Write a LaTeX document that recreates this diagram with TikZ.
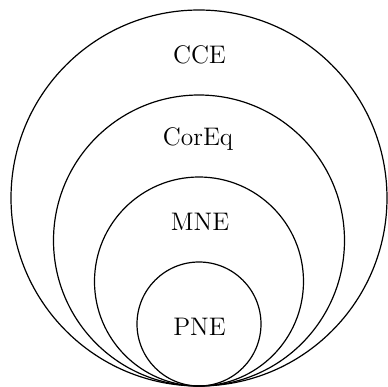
\documentclass[tikz,border=0pt]{standalone}
\begin{document}
\begin{tikzpicture}[x=0.5pt,y=-0.5pt,
  ring/.style={line width=0.6pt,draw=black},
  lbl/.style={font=\fontsize{12.7}{15}\selectfont,inner sep=0pt,anchor=base}]
\useasboundingbox (0,0) rectangle (388,387);
\coordinate (B) at (199,386);
\draw[ring] (199,198) circle[radius=94pt];
\draw[ring] (199,240.5) circle[radius=72.75pt];
\draw[ring] (199,281.5) circle[radius=52.25pt];
\draw[ring] (199,324) circle[radius=31pt];
\node[lbl] (cce) at (199.5,63) {CCE};
\node[lbl] (coreq) at (198,145) {CorEq};
\node[lbl] (mne) at (200,230) {MNE};
\node[lbl] (pne) at (199.5,335) {PNE};
\end{tikzpicture}
\end{document}
